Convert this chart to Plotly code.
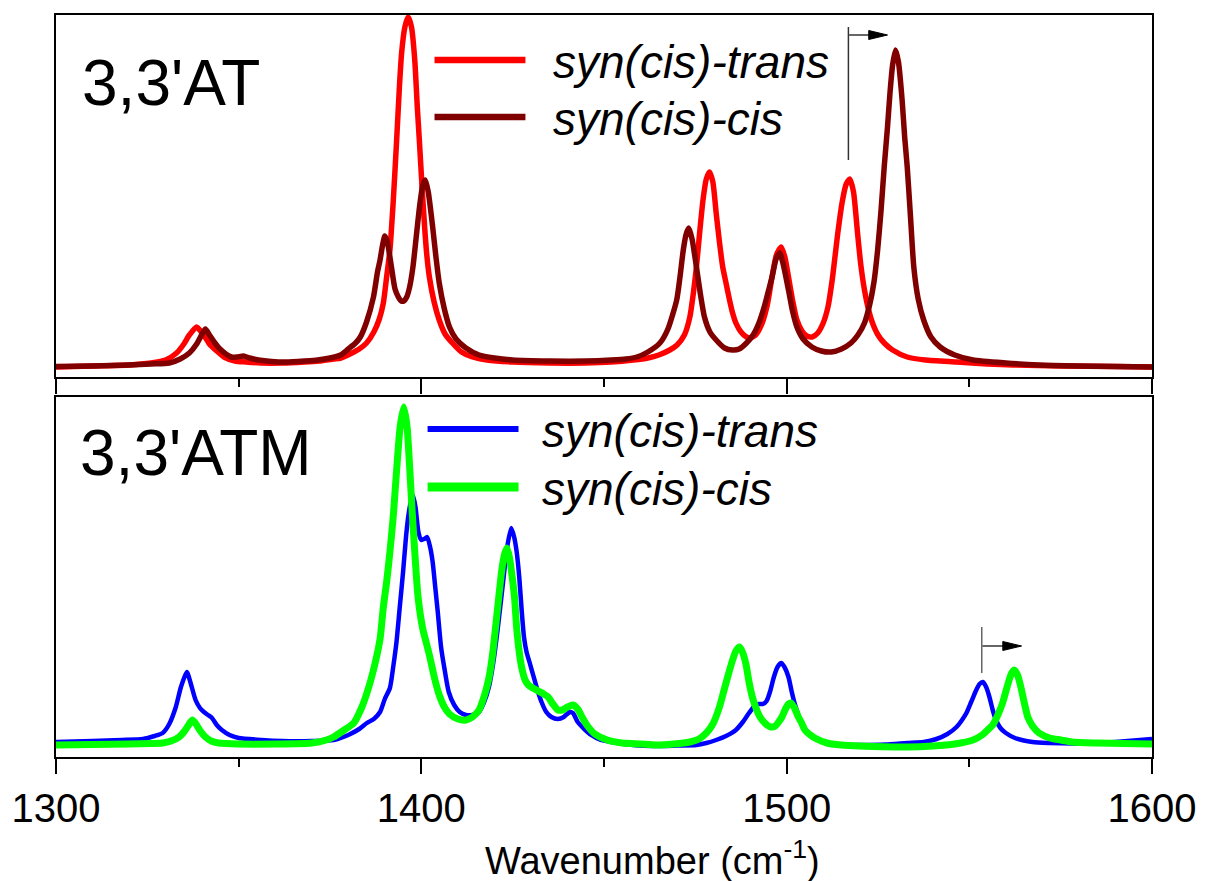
import plotly.graph_objects as go

# ---------------- data ----------------
# Top panel: 3,3'AT
wn_at_trans = [1300, 1310, 1320, 1326, 1330, 1333, 1335, 1336.5, 1338.5, 1340, 1341.5, 1342, 1344, 1346, 1349,
               1352, 1356, 1362, 1368, 1372, 1376, 1378, 1381, 1383, 1385, 1387, 1388.5, 1389.6, 1390.5, 1391.4,
               1392.3, 1393.2, 1394, 1394.6, 1395.5, 1396.4, 1397.3, 1398.2, 1398.9, 1399.5, 1400.2, 1400.9,
               1401.5, 1402.2, 1403.5, 1404.9, 1406.5, 1408.5, 1411, 1414, 1418, 1425, 1435, 1445, 1452, 1458,
               1462, 1465, 1468, 1470, 1472, 1473.5, 1474.5, 1475.3, 1476.2, 1477.1, 1478, 1478.9, 1479.8, 1480.7,
               1481.6, 1482.5, 1483.4, 1484.3, 1485.2, 1486.1, 1487.5, 1489, 1490, 1491.5, 1493.3, 1494.7, 1496,
               1497.2, 1498.5, 1499.5, 1500.5, 1501.6, 1502.8, 1504.2, 1505.5, 1507, 1508.5, 1510, 1511.3, 1512.5,
               1514, 1515.2, 1516.3, 1517.3, 1518.3, 1519.4, 1520.3, 1521.3, 1522.5, 1523.5, 1525, 1526.7, 1529,
               1533, 1538, 1546.5, 1555, 1562, 1575, 1590, 1600]
at_trans = [10, 11, 12, 14, 17, 24, 33, 42, 50, 44, 36, 33, 26, 20, 16,
            15, 14, 14, 15, 16, 18, 19, 24, 28, 34, 45, 58, 74, 100, 127,
            175, 234, 290, 324, 350, 360, 350, 317, 270, 234, 190, 150,
            122, 100, 75, 57, 43, 34, 25, 20, 17, 15, 14, 14, 15, 17,
            19, 22, 27, 32, 42, 60, 85, 110, 145, 177, 198, 205, 195, 164,
            135, 110, 94, 78, 64, 54, 45, 40, 39, 42, 54, 72, 100,
            122, 130, 120, 100, 77, 57, 46, 41, 40, 44, 54, 70, 98,
            144, 175, 193, 198, 185, 144, 112, 87, 66, 54, 42, 34, 27,
            20, 17, 15, 13, 12, 11, 10.5, 10]

wn_at_cis = [1300, 1310, 1320, 1326, 1331, 1334, 1336.5, 1338.5, 1340, 1340.9, 1342, 1343.5, 1344.6, 1346.5, 1348,
             1349.5, 1351.3, 1353, 1355.4, 1359, 1363, 1368, 1371.6, 1375, 1377.9, 1380, 1382, 1383.3, 1385,
             1386.9, 1388, 1388.7, 1389.4, 1390, 1390.7, 1391.4, 1392.1, 1392.8, 1393.7, 1394.5, 1395.2, 1396,
             1396.8, 1397.7, 1398.6, 1399.5, 1400.4, 1401.1, 1401.9, 1403.1, 1404, 1404.9, 1406.3, 1407.7,
             1409.5, 1412.2, 1415.8, 1420, 1425, 1435, 1445, 1452, 1456, 1459, 1462, 1465.3, 1467.5, 1469.9,
             1470.8, 1471.7, 1472.5, 1473.2, 1474.1, 1475.3, 1476.3, 1477.5, 1479, 1480.7, 1483, 1485.2, 1487,
             1489, 1490.8, 1492.4, 1494, 1495, 1496, 1497.1, 1498.1, 1499.1, 1500.5, 1501.6, 1502.8, 1504.5,
             1506.9, 1509.5, 1512.2, 1515, 1517.6, 1519.5, 1521.3, 1522.7, 1523.9, 1524.9, 1525.8, 1526.7,
             1527.6, 1528.3, 1529, 1529.8, 1530.6, 1531.6, 1532.3, 1533, 1533.9, 1534.8, 1536, 1537.5, 1539.5,
             1542, 1546, 1551, 1560, 1569, 1580, 1590, 1600]
at_cis = [10.5, 11, 12, 13, 14, 18, 24, 33, 43, 48, 42, 34, 29, 23, 20,
          20, 21, 19, 17, 15.5, 15, 16, 17, 19, 22, 28, 34, 40, 55,
          80, 105, 117, 132, 141, 135, 120, 103, 88, 80, 76, 76, 80,
          90, 110, 140, 170, 192, 197, 185, 150, 120, 94, 68, 50,
          38, 29, 22, 19, 17, 16, 16, 17, 18, 20, 25, 34, 48, 77,
          100, 127, 143, 149, 138, 110, 85, 60, 45, 37, 29, 27, 28,
          34, 42, 54, 72, 86, 100, 118, 124, 112, 87, 66, 50, 38,
          30, 26, 25, 28, 34, 42, 54, 72, 95, 127, 165, 210,
          250, 285, 312, 327, 315, 277, 240, 210, 160, 110, 78, 57, 40,
          30, 22, 17, 14, 12, 11, 10.5, 10]

# Bottom panel: 3,3'ATM
wn_atm_trans = [1300, 1310, 1318, 1323.8, 1327, 1329.2, 1331, 1332.8, 1334.2, 1335.8, 1337, 1338.2, 1339.4, 1340.5,
                1341.6, 1342.7, 1344, 1345.4, 1347.5, 1350, 1356.3, 1362, 1370, 1376, 1380, 1383, 1385.1, 1387,
                1388.7, 1390, 1391.4, 1392.3, 1393.2, 1394.1, 1395, 1395.8, 1396.4, 1397.1, 1397.7, 1398.4,
                1399.2, 1400, 1400.8, 1401.6, 1402.4, 1403.1, 1403.8, 1404.5, 1405.4, 1406.3, 1407.5, 1409,
                1410.5, 1412.2, 1414, 1415.8, 1417.2, 1418.5, 1419.6, 1420.7, 1421.6, 1422.5, 1423.5, 1424.6,
                1425.4, 1426.1, 1426.8, 1427.5, 1428.1, 1428.8, 1429.6, 1430.6, 1431.7, 1432.9, 1434.2, 1435.6,
                1437.4, 1439, 1440.6, 1441.5, 1442.8, 1444.6, 1446.5, 1449.1, 1452, 1458, 1464.5, 1470, 1475.3,
                1478, 1480.7, 1483.4, 1486.1, 1488, 1489.7, 1491.2, 1492.4, 1493.5, 1494.5, 1495.5, 1496.5,
                1497.5, 1498.5, 1499.4, 1500.5, 1501.4, 1502.3, 1503.2, 1504.1, 1505.9, 1508, 1511, 1515, 1520,
                1527, 1533, 1537.5, 1541, 1544, 1546.5, 1548, 1549.2, 1550.5, 1551.9, 1552.8, 1553.7, 1554.6,
                1555.5, 1556.4, 1557.3, 1558.5, 1560, 1562.5, 1567.3, 1572, 1578, 1585, 1590, 1595, 1600]
atm_trans = [15, 16, 17, 18, 21, 24, 33, 50, 70, 85, 72, 57, 49, 45,
             42, 39, 32, 27, 22, 19, 17, 16, 16, 17, 22, 28, 34, 38,
             45, 58, 69, 90, 115, 150, 185, 220, 240, 255, 262, 250,
             225, 217, 218, 220, 210, 195, 170, 145, 110, 89, 65, 52,
             45, 42, 42, 45, 55, 70, 92, 122, 150, 179, 210, 229,
             220, 205, 180, 145, 120, 105, 95, 82, 68, 55, 45, 40,
             38, 40, 45, 44, 35, 28, 22, 17, 15, 12, 11, 11.5, 12,
             14, 17, 21, 27, 35, 44, 51, 53, 53, 56, 66, 80,
             90, 94, 90, 80, 65, 52, 42, 34, 24, 18, 14, 12, 12,
             12.5, 14, 15, 18, 23, 30, 37, 44, 55, 67, 73, 75, 70,
             60, 47, 37, 29, 24, 19, 15, 14, 13.5, 14, 15, 16.5, 18]

wn_atm_cis = [1300, 1310, 1320, 1326, 1329.2, 1331.5, 1333.7, 1335.2, 1336.3, 1337.3, 1338.3, 1339.5, 1340.9, 1342.5,
              1344.5, 1350, 1360, 1370, 1374, 1376, 1378.5, 1381.5, 1383.5, 1385.2, 1386.9, 1388.7, 1389.6, 1390.5,
              1391.4, 1392.3, 1393.2, 1394.2, 1395.2, 1396.1, 1396.8, 1397.5, 1398.2, 1399.1, 1400.4, 1401.3,
              1402.2, 1403.6, 1404.9, 1406.3, 1407.7, 1410, 1412.2, 1414, 1415.8, 1417.3, 1418.5, 1419.4, 1420.3,
              1421.2, 1422.1, 1422.8, 1423.4, 1424.1, 1424.8, 1425.5, 1426.1, 1426.8, 1427.5, 1428.4, 1429.3,
              1430.5, 1432, 1433.5, 1434.7, 1436, 1437.4, 1438.6, 1440, 1441.5, 1442.8, 1444, 1445.5, 1447.5,
              1450.9, 1455, 1460, 1464.5, 1469, 1473.5, 1476, 1478, 1479.8, 1481.6, 1482.8, 1484, 1485.2, 1486.1,
              1487.1, 1488, 1488.9, 1489.7, 1490.6, 1491.5, 1492.7, 1494, 1495.6, 1496.9, 1497.8, 1498.7, 1499.8,
              1500.5, 1501.2, 1502, 1503.2, 1504.1, 1505, 1506.5, 1507.7, 1511, 1515, 1520, 1533, 1540, 1546,
              1551, 1553.5, 1555, 1556.4, 1557.8, 1559.1, 1560.1, 1560.9, 1561.6, 1562.3, 1563.2, 1564.1, 1565,
              1566, 1567.3, 1569.1, 1572, 1575, 1578.1, 1585, 1592, 1600]
atm_cis = [12, 12.5, 13, 13.5, 14, 16, 20, 26, 32, 37, 33, 26, 20, 16,
           14, 13, 13, 14, 17, 20, 26, 34, 48, 65, 87, 118, 150, 175,
           205, 240, 285, 330, 350, 330, 290, 245, 205, 160, 128, 115,
           102, 79, 62, 50, 43, 38, 37, 40, 47, 62, 79, 100, 129,
           160, 189, 203, 209, 200, 182, 160, 129, 105, 89, 77, 72,
           69, 66, 63, 60, 53, 47, 47, 50, 52, 48, 40, 31, 23,
           17, 14, 13, 12, 13, 15, 18, 24, 33, 50, 66, 82, 97, 106,
           110, 104, 92, 75, 60, 50, 40, 34, 30, 31, 35, 40, 49,
           53, 54, 50, 40, 34, 27, 22, 19, 14, 12, 11, 10, 11, 13,
           17, 22, 27, 32, 42, 54, 67, 77, 84, 87, 82, 70, 55,
           40, 31, 24, 19, 17, 15, 14, 13.5, 13]

x_range = [1300, 1600]
x_ticks_major = 100
x_ticks_minor = 50
top_label = "3,3'AT"
bottom_label = "3,3'ATM"
series_names = ["syn(cis)-trans", "syn(cis)-cis"]
x_title = "Wavenumber (cm<sup>-1</sup>)"

# shift-arrow anchors (data coordinates)
top_shift = dict(x0=1516.9, x1=1527.6, y_lo=217, y_hi=350, y_arrow=342)
bot_shift = dict(x0=1553.4, x1=1564.3, y_lo=84, y_hi=130, y_arrow=111)

# ---------------- styling / geometry ----------------
W, H = 1208, 881
L, R, T, B = 52, 1161, 15, 757          # plot-area pixel box
TOP_BOTTOM_PX = 377
BOT_TOP_PX = 397
area_h = B - T
FONT = "Arial, Liberation Sans, sans-serif"

def px_x(px):
    return (px - L) / (R - L)

def px_y(py):
    return (B - py) / area_h

c_red, c_dred, c_blue, c_green = "#FF0000", "#800000", "#0000FF", "#00FF00"

fig = go.Figure()
fig.add_trace(go.Scatter(x=wn_at_trans, y=at_trans, mode="lines", name=series_names[0],
                         line=dict(color=c_red, width=5.5, shape="spline", smoothing=0.6),
                         xaxis="x", yaxis="y"))
fig.add_trace(go.Scatter(x=wn_at_cis, y=at_cis, mode="lines", name=series_names[1],
                         line=dict(color=c_dred, width=5.5, shape="spline", smoothing=0.6),
                         xaxis="x", yaxis="y"))
fig.add_trace(go.Scatter(x=wn_atm_trans, y=atm_trans, mode="lines", name=series_names[0],
                         line=dict(color=c_blue, width=4.5, shape="spline", smoothing=0.6),
                         xaxis="x2", yaxis="y2"))
fig.add_trace(go.Scatter(x=wn_atm_cis, y=atm_cis, mode="lines", name=series_names[1],
                         line=dict(color=c_green, width=7, shape="spline", smoothing=0.6),
                         xaxis="x2", yaxis="y2"))

axis_common = dict(range=x_range, showline=True, linewidth=2, linecolor="black", mirror=True,
                   showgrid=False, zeroline=False, ticks="outside", ticklen=15, tickwidth=2,
                   tickcolor="black", tick0=x_range[0], dtick=x_ticks_major,
                   minor=dict(ticks="outside", dtick=x_ticks_minor, ticklen=8, tickwidth=2,
                              tickcolor="black", showgrid=False))
yaxis_common = dict(showline=True, linewidth=2, linecolor="black", mirror=True, showgrid=False,
                    zeroline=False, ticks="", showticklabels=False)

fig.update_layout(
    width=W, height=H,
    margin=dict(l=L, r=W - R, t=T, b=H - B, pad=0),
    paper_bgcolor="white", plot_bgcolor="white",
    showlegend=False,
    font=dict(family=FONT, color="black"),
    xaxis=dict(anchor="y", showticklabels=False, **axis_common),
    yaxis=dict(domain=[px_y(TOP_BOTTOM_PX), 1], range=[0, TOP_BOTTOM_PX - T], **yaxis_common),
    xaxis2=dict(anchor="y2", showticklabels=True, tickfont=dict(size=40, family=FONT), **axis_common),
    yaxis2=dict(domain=[0, px_y(BOT_TOP_PX)], range=[0, B - BOT_TOP_PX], **yaxis_common),
)

annotations = []
shapes = []

# panel labels
annotations.append(dict(xref="paper", yref="paper", x=px_x(76), y=px_y(83), xanchor="left", yanchor="middle",
                        text=top_label, showarrow=False, font=dict(size=64, family=FONT)))
annotations.append(dict(xref="paper", yref="paper", x=px_x(74), y=px_y(453), xanchor="left", yanchor="middle",
                        text=bottom_label, showarrow=False, font=dict(size=64, family=FONT)))

# manual legends
legend_items = [
    (435, 527, 60, 553, series_names[0], c_red, 6.5),
    (435, 527, 117, 553, series_names[1], c_dred, 6.5),
    (428, 520, 429, 542, series_names[0], c_blue, 6),
    (428, 520, 487, 542, series_names[1], c_green, 9),
]
for x0, x1, yy, tx, name, col, lw in legend_items:
    shapes.append(dict(type="line", xref="paper", yref="paper", x0=px_x(x0), x1=px_x(x1),
                       y0=px_y(yy), y1=px_y(yy), line=dict(color=col, width=lw)))
    annotations.append(dict(xref="paper", yref="paper", x=px_x(tx), y=px_y(yy + 2), xanchor="left",
                            yanchor="middle", text="<i>%s</i>" % name, showarrow=False,
                            font=dict(size=46, family=FONT)))

# x-axis title
annotations.append(dict(xref="paper", yref="paper", x=px_x(656), y=px_y(858), xanchor="center",
                        yanchor="middle", text=x_title, showarrow=False, font=dict(size=38, family=FONT)))

# shift markers
def add_shift(d, xr, yr, vcol):
    shapes.append(dict(type="line", xref=xr, yref=yr, x0=d["x0"], x1=d["x0"], y0=d["y_lo"], y1=d["y_hi"],
                       line=dict(color=vcol, width=1.5)))
    head_len = 19 * (x_range[1] - x_range[0]) / (R - L)
    shapes.append(dict(type="line", xref=xr, yref=yr, x0=d["x0"] + 0.2, x1=d["x1"] - head_len + 0.3,
                       y0=d["y_arrow"], y1=d["y_arrow"], line=dict(color="#333333", width=1.5)))
    base = d["x1"] - head_len
    path = "M %f,%f L %f,%f L %f,%f Z" % (base, d["y_arrow"] + 4.5, d["x1"], d["y_arrow"], base, d["y_arrow"] - 4.5)
    shapes.append(dict(type="path", xref=xr, yref=yr, path=path, fillcolor="black",
                       line=dict(color="black", width=1)))

add_shift(top_shift, "x", "y", "#333333")
add_shift(bot_shift, "x2", "y2", "#666666")

fig.update_layout(annotations=annotations, shapes=shapes)
fig.write_html("out.html",
               config={"displayModeBar": False},
               post_script="document.body.style.margin='0';document.body.style.overflow='hidden';")
